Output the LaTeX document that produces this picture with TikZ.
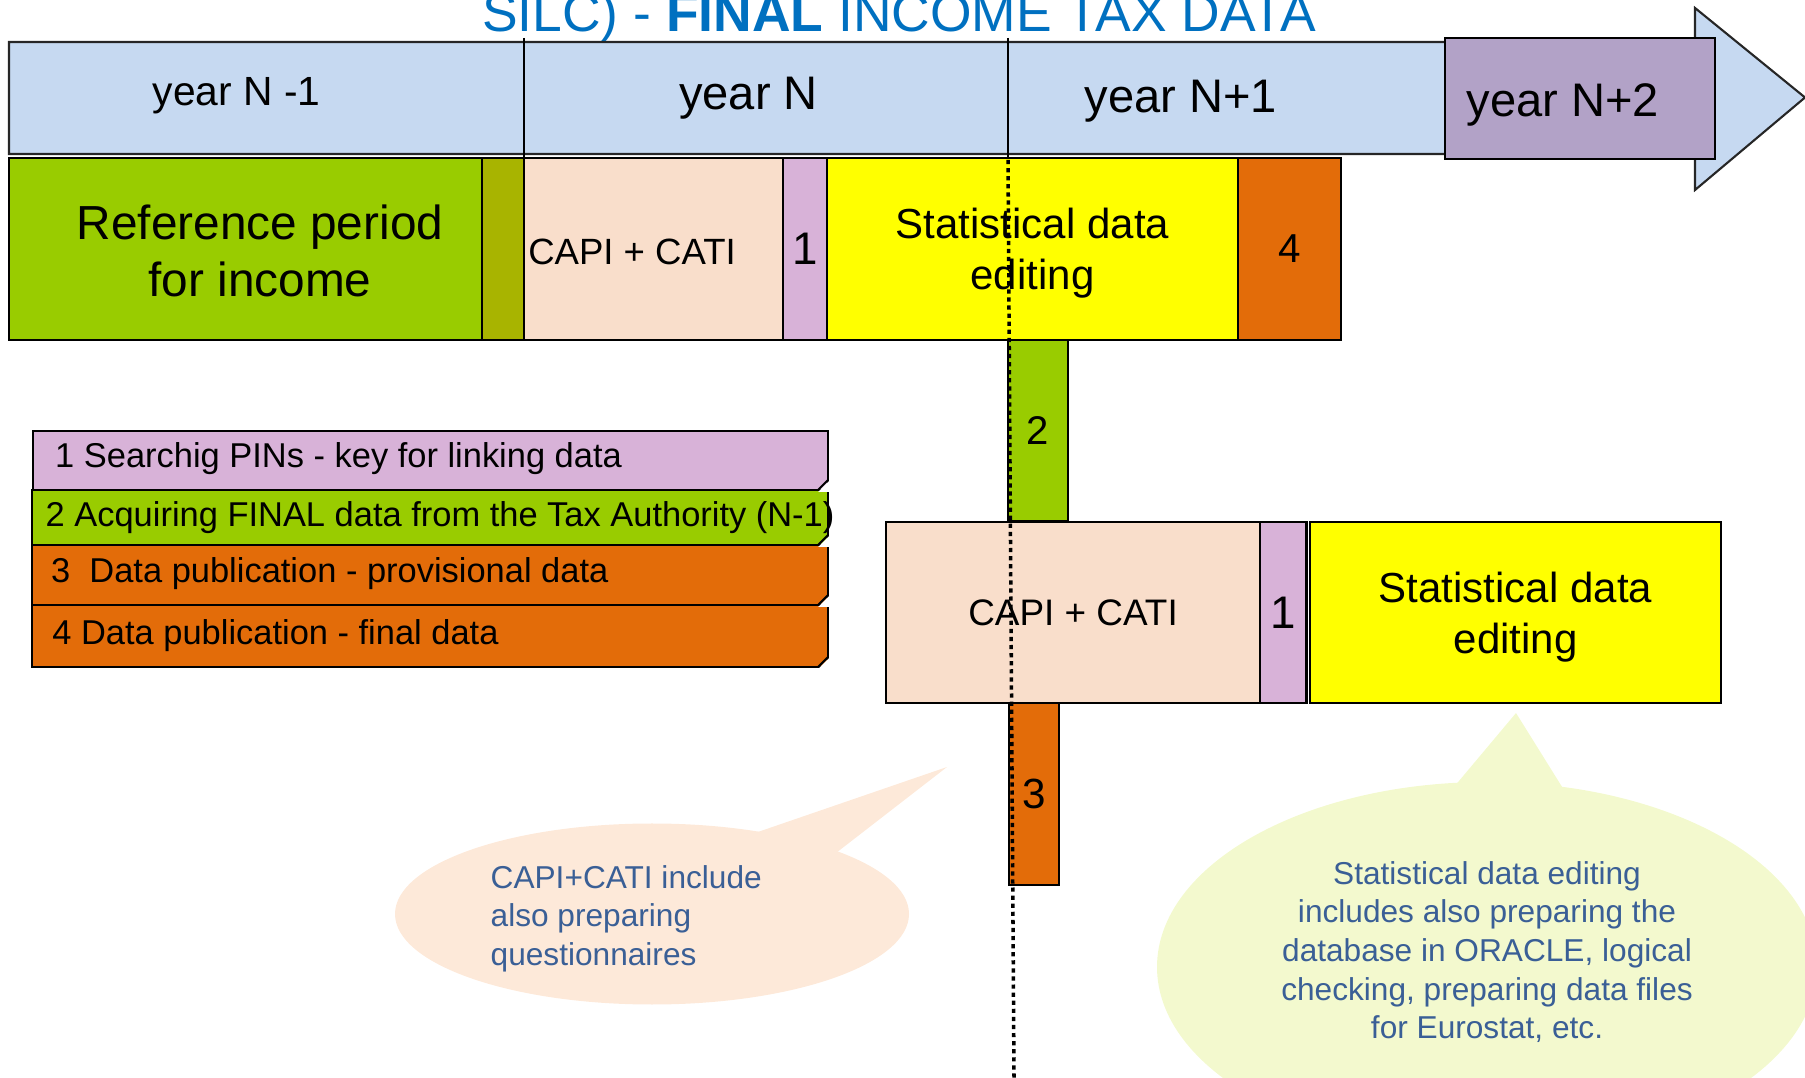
\documentclass[tikz,border=0pt]{standalone}
\usepackage{fontspec}
\setmainfont{Liberation Sans}

\definecolor{bandblue}{HTML}{C6D9F1}
\definecolor{yearpurple}{HTML}{B2A2C7}
\definecolor{refgreen}{HTML}{99CC00}
\definecolor{refolive}{HTML}{A8B400}
\definecolor{capipeach}{HTML}{F9DECB}
\definecolor{pinlilac}{HTML}{D8B2D8}
\definecolor{puborange}{HTML}{E36C09}
\definecolor{edityellow}{HTML}{FFFF00}
\definecolor{titleblue}{HTML}{0070C0}
\definecolor{notetext}{HTML}{3A5F96}
\definecolor{notepeach}{HTML}{FDE9D9}
\definecolor{notelime}{HTML}{F3F9CE}

\begin{document}
\begin{tikzpicture}[
        box/.style={draw, line width=0.6pt, inner sep=0pt, outer sep=0pt, anchor=north west, align=center},
        yeartxt/.style={anchor=base, inner sep=0pt, font=\fontsize{13.4}{16}\selectfont},
        legtxt/.style={anchor=base west, inner sep=0pt, font=\fontsize{9.8}{11.8}\selectfont},
        note/.style={inner sep=0pt, text=notetext, font=\fontsize{9}{11}\selectfont},
        dotline/.style={line width=1pt, dash pattern=on 1.2pt off 1.1pt}
    ]
        \useasboundingbox (0,0) rectangle (18.05,-10.78);
        \clip (0,0) rectangle (18.05,-10.78);

        % Title (cut at the top)
        \node[anchor=base, text=titleblue, font=\fontsize{15.2}{18}\selectfont] (title) at (8.99,-0.32)
            {SILC) - \textbf{FINAL} INCOME TAX DATA};

        % Time line
        \draw[fill=bandblue, line width=0.6pt, draw=black!85] (0.09,-0.42) -- (16.95,-0.42) -- (16.95,-0.08)
            -- (18.05,-0.975) -- (16.95,-1.90) -- (16.95,-1.54) -- (0.09,-1.54) -- cycle;
        \node[box, fill=yearpurple, minimum width=2.70cm, minimum height=1.21cm] (yn2box) at (14.45,-0.38) {};
        \draw[line width=0.5pt] (5.24,-0.38) -- (5.24,-1.58);
        \draw[line width=0.5pt] (10.08,-0.38) -- (10.08,-1.58);
        \node[yeartxt, font=\fontsize{11.6}{14}\selectfont] (yn0) at (2.365,-1.06) {year N -1};
        \node[yeartxt] (yn1) at (7.485,-1.10) {year N};
        \node[yeartxt] (yn1p) at (11.81,-1.13) {year N+1};
        \node[yeartxt] (yn2) at (15.63,-1.17) {year N+2};

        % Survey year N
        \node[box, fill=refgreen, minimum width=4.73cm, minimum height=1.82cm] (ref) at (0.09,-1.58) {};
        \node[align=center, font=\fontsize{13.6}{16.4}\selectfont] (reftxt) at (2.60,-2.51) {Reference period\\for income};
        \node[box, fill=refolive, minimum width=0.42cm, minimum height=1.82cm] (olive) at (4.82,-1.58) {};
        \node[box, fill=capipeach, minimum width=2.59cm, minimum height=1.82cm] (capi1) at (5.24,-1.58) {};
        \node[font=\fontsize{10.4}{12.5}\selectfont] (capi1txt) at (6.32,-2.515) {CAPI + CATI};
        \node[box, fill=pinlilac, minimum width=0.44cm, minimum height=1.82cm, font=\fontsize{13}{15}\selectfont] (pin1) at (7.83,-1.58) {1};
        \node[box, fill=edityellow, minimum width=4.11cm, minimum height=1.82cm, text depth=0pt, font=\fontsize{11.95}{14.4}\selectfont] (edit1) at (8.27,-1.58) {Statistical data\\editing};
        \node[box, fill=puborange, minimum width=1.03cm, minimum height=1.82cm, font=\fontsize{11.5}{14}\selectfont] (pub4) at (12.38,-1.58) {4};

        % Tax data
        \node[box, fill=refgreen, minimum width=0.60cm, minimum height=1.81cm, font=\fontsize{11.4}{14}\selectfont] (tax2) at (10.08,-3.40) {2};

        % Survey year N+1
        \node[box, fill=capipeach, minimum width=3.74cm, minimum height=1.81cm, font=\fontsize{10.5}{12.5}\selectfont] (capi2) at (8.86,-5.22) {CAPI + CATI};
        \node[box, fill=pinlilac, minimum width=0.465cm, minimum height=1.81cm, font=\fontsize{13}{15}\selectfont] (pin2) at (12.60,-5.22) {1};
        \node[box, fill=edityellow, minimum width=4.11cm, minimum height=1.81cm, text depth=0pt, font=\fontsize{11.95}{14.4}\selectfont] (edit2) at (13.10,-5.22) {Statistical data\\editing};
        \node[box, fill=puborange, minimum width=0.50cm, minimum height=1.82cm, font=\fontsize{12}{14}\selectfont] (pub3) at (10.09,-7.03) {3};

        % Legend
        \node[box, fill=pinlilac, minimum width=7.95cm, minimum height=0.59cm] (leg1) at (0.33,-4.31) {};
        \node[box, fill=refgreen, minimum width=7.96cm, minimum height=0.55cm] (leg2) at (0.32,-4.90) {};
        \node[box, fill=puborange, minimum width=7.964cm, minimum height=0.60cm] (leg3) at (0.316,-5.45) {};
        \node[box, fill=puborange, minimum width=7.964cm, minimum height=0.62cm] (leg4) at (0.316,-6.05) {};
        \foreach \l in {leg1,leg2,leg3,leg4} {
            \fill[white] ([xshift=0.02cm,yshift=0.1cm]\l.south east) -- ([xshift=0.02cm,yshift=-0.02cm]\l.south east)
                -- ([xshift=-0.1cm,yshift=-0.02cm]\l.south east) -- cycle;
            \draw[line width=0.6pt] ([yshift=0.1cm]\l.south east) -- ([xshift=-0.1cm]\l.south east);
        }
        \node[legtxt] (leg1txt) at (0.545,-4.68) {1 Searchig PINs - key for linking data};
        \node[legtxt] (leg2txt) at (0.45,-5.27) {2 Acquiring FINAL data from the Tax Authority (N-1)};
        \node[legtxt] (leg3txt) at (0.505,-5.83) {3\ \ Data publication - provisional data};
        \node[legtxt] (leg4txt) at (0.517,-6.45) {4 Data publication - final data};

        % Callouts
        \fill[notepeach] (6.52,-9.14) ellipse [x radius=2.57, y radius=0.905];
        \fill[notepeach] (7.20,-8.45) -- (9.47,-7.67) -- (8.05,-8.77) -- cycle;
        \node[note, anchor=west, align=left] (capinote) at (4.90,-9.185)
            {CAPI+CATI include\\also preparing\\questionnaires};

        \fill[notelime] (14.87,-9.67) ellipse [x radius=3.30, y radius=1.85];
        \fill[notelime] (14.17,-8.31) -- (15.16,-7.13) -- (15.92,-8.35) -- cycle;
        \node[note, align=center] (editnote) at (14.87,-9.52)
            {Statistical data editing\\includes also preparing the\\database in ORACLE, logical\\checking, preparing data files\\for Eurostat, etc.};

        % Cut between year N and year N+1
        \coordinate (cut top) at (10.08,-1.60);
        \coordinate (cut end) at (10.14,-10.78);
        \draw[dotline] (cut top) -- (cut end);

    \end{tikzpicture}
\end{document}
